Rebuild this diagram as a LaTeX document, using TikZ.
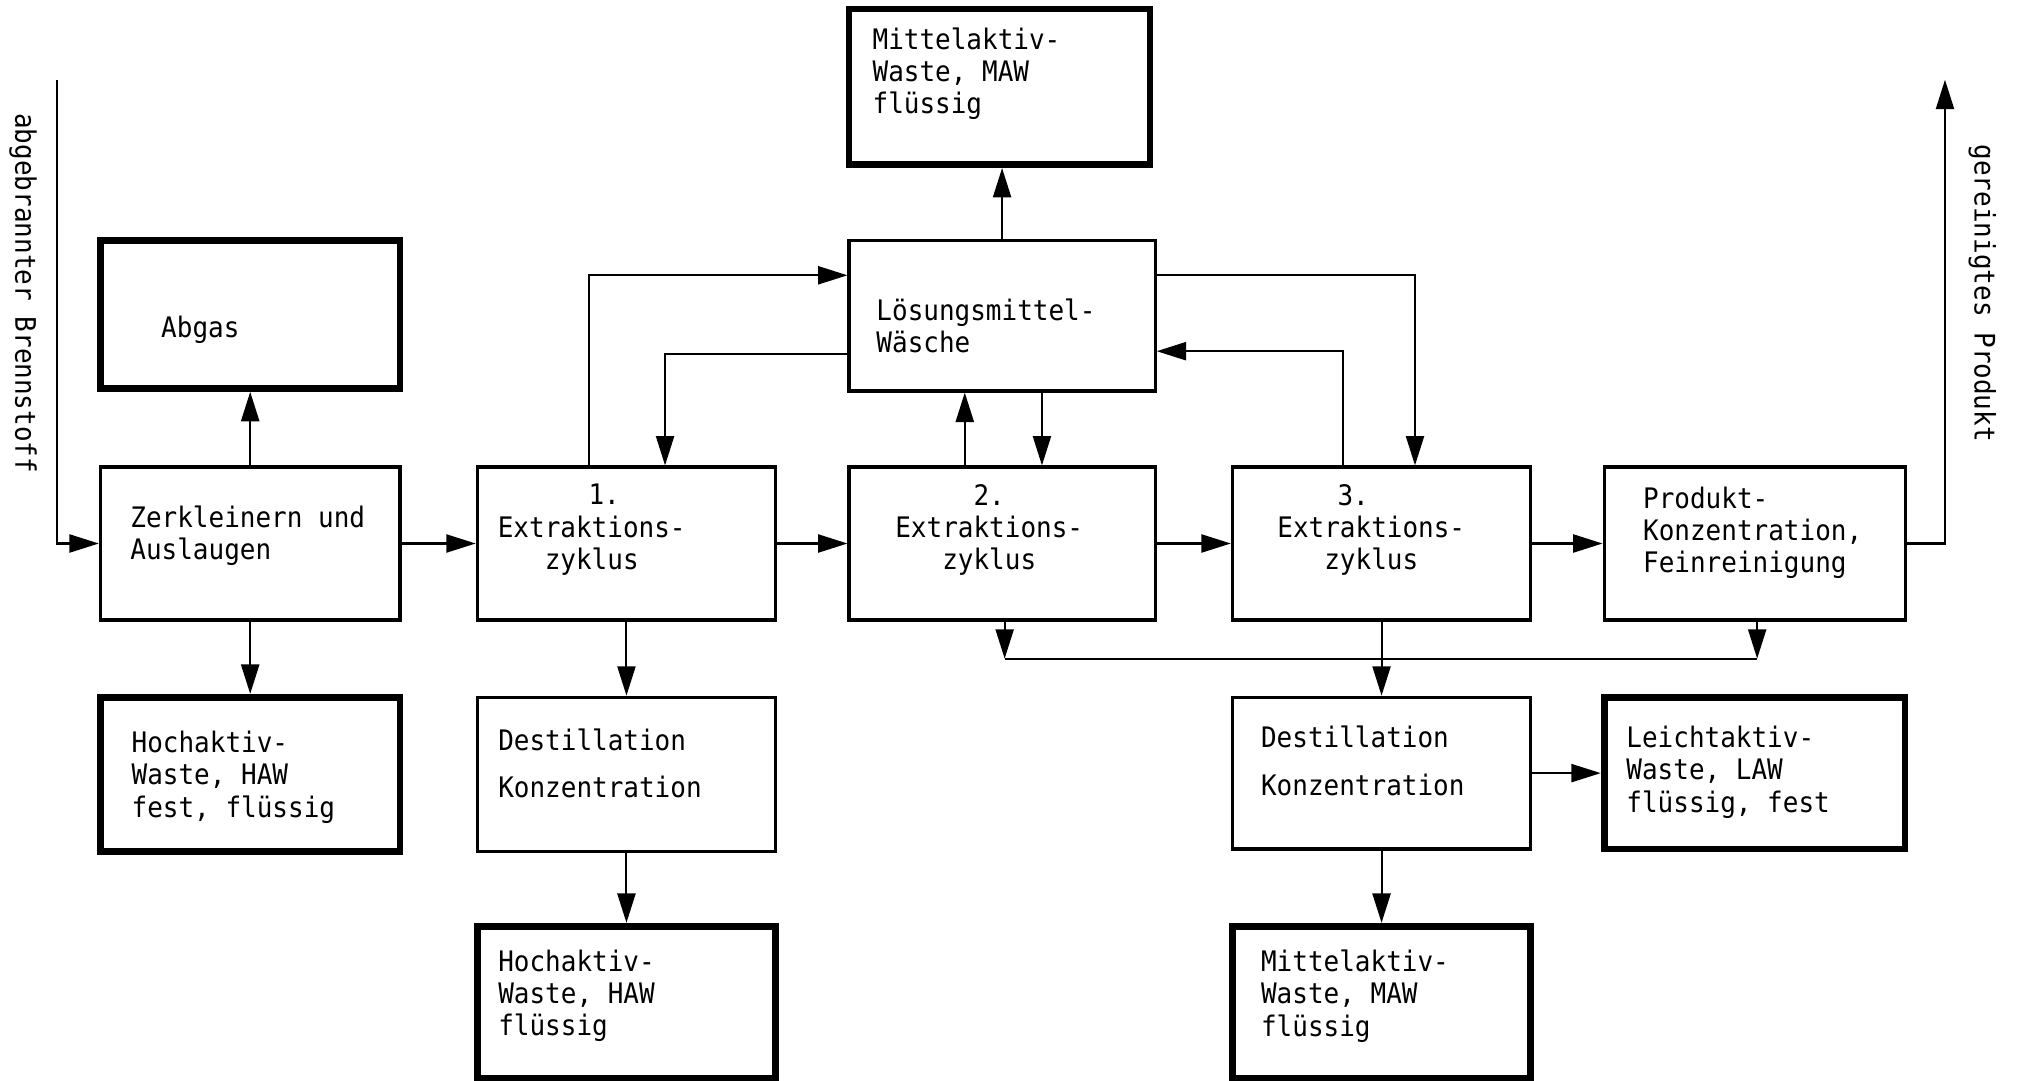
\documentclass[tikz,border=0pt]{standalone}
\usepackage{fontspec}
\newfontfamily\tw[FakeStretch=0.92]{DejaVu Sans Mono}
\usetikzlibrary{arrows.meta}

\tikzset{
  box/.style={draw, line width=1.4pt, inner sep=0pt, rectangle},
  wastebox/.style={draw, line width=3pt, inner sep=0pt, rectangle},
  txt/.style={inner sep=0pt, align=left, anchor=north west,
    font=\tw\fontsize{12.5}{14.3}\selectfont},
  ctxt/.style={txt, align=center, anchor=north},
  arr/.style={line width=0.9pt, -{Triangle[length=13pt, width=8pt]}},
  ln/.style={line width=0.9pt},
}

\begin{document}
\begin{tikzpicture}[x=0.02cm, y=-0.02cm]
\useasboundingbox (0,0) rectangle (1568,840);

% process and waste boxes
\node[wastebox, minimum width=4.66cm, minimum height=2.30cm] (abgas) at (194.5,244.5) {};
\node[box,      minimum width=4.66cm, minimum height=2.38cm] (zerk)  at (194.5,422.5) {};
\node[wastebox, minimum width=4.66cm, minimum height=2.40cm] (hawL)  at (194.5,602) {};
\node[box,      minimum width=4.64cm, minimum height=2.38cm] (ex1)   at (487,422.5) {};
\node[box,      minimum width=4.64cm, minimum height=2.40cm] (dest1) at (487,602) {};
\node[wastebox, minimum width=4.64cm, minimum height=2.36cm] (haw1)  at (487,779) {};
\node[wastebox, minimum width=4.68cm, minimum height=2.42cm] (mawT)  at (777,67.5) {};
\node[box,      minimum width=4.76cm, minimum height=2.34cm] (loes)  at (779,245.5) {};
\node[box,      minimum width=4.76cm, minimum height=2.38cm] (ex2)   at (779,422.5) {};
\node[box,      minimum width=4.64cm, minimum height=2.38cm] (ex3)   at (1074,422.5) {};
\node[box,      minimum width=4.68cm, minimum height=2.38cm] (prod)  at (1364,422.5) {};
\node[box,      minimum width=4.64cm, minimum height=2.36cm] (dest3) at (1074,601) {};
\node[wastebox, minimum width=4.68cm, minimum height=2.36cm] (law)   at (1364,601) {};
\node[wastebox, minimum width=4.64cm, minimum height=2.36cm] (mawB)  at (1074,779) {};

% box texts
\node[txt] (t-abgas) at (125,245) {Abgas};
\node[txt] (t-zerk)  at (101,393) {Zerkleinern und\\Auslaugen};
\node[txt] (t-hawL)  at (102,568) {Hochaktiv-\\Waste, HAW\\fest, flüssig};
\node[ctxt] (t-ex1)  at (460,376) {\hspace*{11pt}1.\\Extraktions-\\zyklus};
\node[txt] (t-dest1) at (387,566) {Destillation\\[6.7pt]Konzentration};
\node[txt] (t-haw1)  at (387,738) {Hochaktiv-\\Waste, HAW\\flüssig};
\node[txt] (t-mawT)  at (678,21)  {Mittelaktiv-\\Waste, MAW\\flüssig};
\node[txt] (t-loes)  at (681,232) {Lösungsmittel-\\Wäsche};
\node[ctxt] (t-ex2)  at (769,376) {2.\\Extraktions-\\zyklus};
\node[ctxt] (t-ex3)  at (1066,376) {3.\hspace*{16pt}\\Extraktions-\\zyklus};
\node[txt] (t-prod)  at (1277,378) {Produkt-\\Konzentration,\\Feinreinigung};
\node[txt] (t-dest3) at (980,564) {Destillation\\[6.7pt]Konzentration};
\node[txt] (t-law)   at (1264,564) {Leichtaktiv-\\Waste, LAW\\flüssig, fest};
\node[txt] (t-mawB)  at (980,738) {Mittelaktiv-\\Waste, MAW\\flüssig};

% side labels
\node[txt, anchor=center, rotate=-90] (l-in)  at (18,228)  {abgebrannter Brennstoff};
\node[txt, anchor=center, rotate=-90] (l-out) at (1541,228) {gereinigtes Produkt};

% routing points
\coordinate (inTop)  at (44,62);
\coordinate (outTop) at (1512,62);
\coordinate (kA) at (458,214);
\coordinate (kB) at (517,275);
\coordinate (kC) at (750,330);
\coordinate (kD) at (810,330);
\coordinate (kE) at (1100,214);
\coordinate (kF) at (1044,273);
\coordinate (kG) at (781,512);
\coordinate (kH) at (1366,512);

% main flow
\draw[arr] (inTop) -- (inTop |- zerk.west) -- (zerk.west);
\draw[arr] (zerk.north) -- (abgas.south);
\draw[arr] (zerk.south) -- (hawL.north);
\draw[arr] (zerk.east) -- (ex1.west);
\draw[arr] (ex1.south) -- (dest1.north);
\draw[arr] (dest1.south) -- (haw1.north);
\draw[arr] (ex1.east) -- (ex2.west);
\draw[arr] (ex2.east) -- (ex3.west);
\draw[arr] (ex3.east) -- (prod.west);
\draw[arr] (prod.east) -- (prod.east -| outTop) -- (outTop);

% solvent wash loops
\draw[arr] (ex1.north -| kA) -- (kA) -- (loes.west |- kA);
\draw[arr] (loes.west |- kB) -- (kB) -- (ex1.north -| kB);
\draw[arr] (ex2.north -| kC) -- (loes.south -| kC);
\draw[arr] (loes.south -| kD) -- (ex2.north -| kD);
\draw[arr] (loes.east |- kE) -- (kE) -- (ex3.north -| kE);
\draw[arr] (ex3.north -| kF) -- (kF) -- (loes.east |- kF);
\draw[arr] (loes.north) -- (loes.north |- mawT.south);

% collector below the extraction cycles
\draw[arr] (ex2.south -| kG) -- (kG);
\draw[arr] (prod.south -| kH) -- (kH);
\draw[ln] (kG) -- (kH);
\draw[arr] (ex3.south) -- (dest3.north);
\draw[arr] (dest3.east) -- (law.west);
\draw[arr] (dest3.south) -- (mawB.north);
\end{tikzpicture}
\end{document}
